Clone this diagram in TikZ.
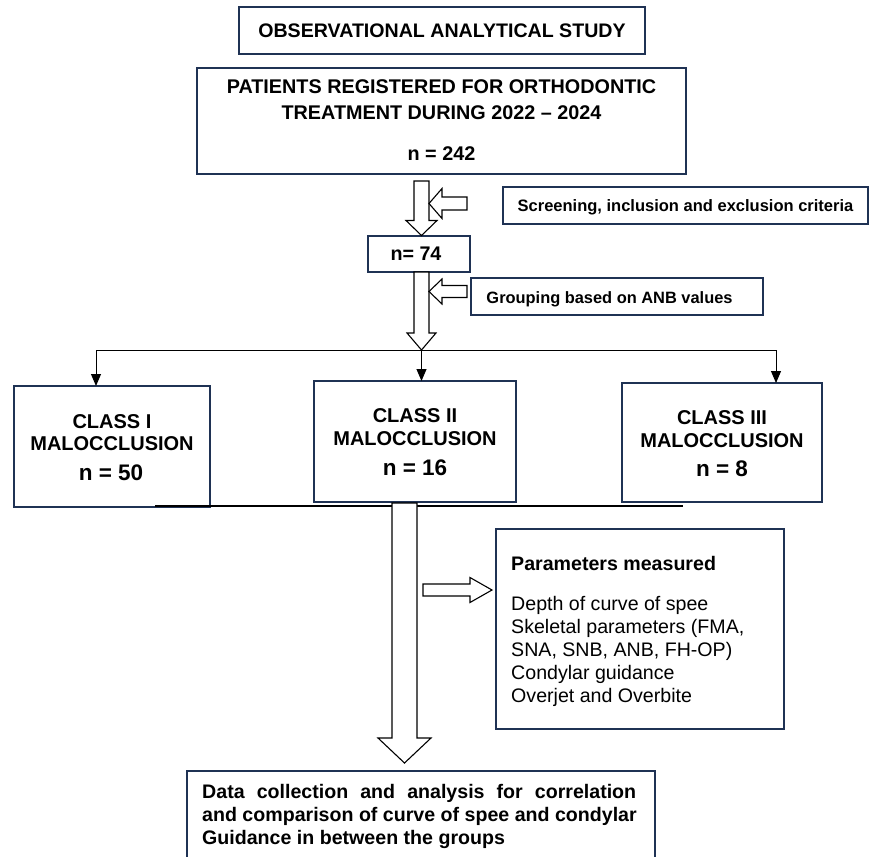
\documentclass[tikz,border=0pt]{standalone}
\usepackage{fontspec}
\setmainfont{Liberation Sans}
\usetikzlibrary{calc,arrows.meta}
\definecolor{navy}{RGB}{31,50,84}
\newcommand{\hollowarr}[5]{%
  \coordinate (hb) at ($(#2)!#5!(#1)$);
  \draw[hollow] ($(#1)!#3!90:(#2)$) -- ($(hb)!#3!-90:(#1)$) -- ($(hb)!#4!-90:(#1)$)
    -- (#2) -- ($(hb)!#4!90:(#1)$) -- ($(hb)!#3!90:(#1)$) -- ($(#1)!#3!-90:(#2)$) -- cycle;}
\begin{document}
\begin{tikzpicture}[x=1pt,y=-1pt,
  box/.style={draw=navy,line width=2pt,fill=white,inner sep=0pt,outer sep=0pt},
  hollow/.style={draw=black,line width=1.1pt,fill=white,line join=miter},
  conn/.style={draw=black,line width=1pt,-{Triangle[length=12pt,width=10pt]}},
  bt/.style={font=\bfseries\fontsize{#1}{#1}\selectfont,inner sep=0pt,anchor=base},
  bt/.default=20,
  rt/.style={font=\fontsize{#1}{#1}\selectfont,inner sep=0pt,anchor=base west},
  rt/.default=20]
\useasboundingbox (0,0) rectangle (869,856);
\clip (0,0) rectangle (869,856);
\fill[white] (0,0) rectangle (869,856);

% boxes
\node[box,minimum width=406pt,minimum height=47pt] (title) at (442,30.5) {};
\node[bt=19.6] (titletxt) at (442,37.5) {OBSERVATIONAL ANALYTICAL STUDY};

\node[box,minimum width=489pt,minimum height=106pt] (pat) at (441.5,121) {};
\node[bt=19.8] (pat1) at (441.5,94) {PATIENTS REGISTERED FOR ORTHODONTIC};
\node[bt=19.8] (pat2) at (441.5,120) {TREATMENT DURING 2022 – 2024};
\node[bt=19.8] (pat3) at (441.5,160) {n = 242};

\node[box,minimum width=365pt,minimum height=37pt] (scr) at (685.5,205.5) {};
\node[bt=16.5] (scrtxt) at (685.5,211) {Screening, inclusion and exclusion criteria};

\node[box,minimum width=102pt,minimum height=36pt] (n74) at (419,254) {};
\node[bt=19.7] (n74txt) at (416,260) {n= 74};

\node[box,minimum width=292pt,minimum height=37pt] (grp) at (617,296.5) {};
\node[bt=16.4] (grptxt) at (609.5,303) {Grouping based on ANB values};

\node[box,minimum width=196pt,minimum height=121pt] (c1) at (112,446.5) {};
\node[bt=20] (c1a) at (112,428) {CLASS I};
\node[bt=20] (c1b) at (112,450.5) {MALOCCLUSION};
\node[bt=22.5] (c1c) at (111,480) {n = 50};

\node[box,minimum width=202pt,minimum height=121pt] (c2) at (415,441.5) {};
\node[bt=20] (c2a) at (415,422) {CLASS II};
\node[bt=20] (c2b) at (415,445) {MALOCCLUSION};
\node[bt=22.5] (c2c) at (415,475) {n = 16};

\node[box,minimum width=200pt,minimum height=119pt] (c3) at (722,442.5) {};
\node[bt=20] (c3a) at (722,424) {CLASS III};
\node[bt=20] (c3b) at (722,447) {MALOCCLUSION};
\node[bt=22.5] (c3c) at (722,476) {n = 8};

\coordinate (ul) at (155,506);
\coordinate (ur) at (683,506);
\draw[black,line width=1.6pt] (ul) -- (ur);

\node[box,minimum width=288pt,minimum height=200pt] (par) at (640,629) {};
\node[rt=19.6,font=\bfseries\fontsize{19.6}{19.6}\selectfont] (par0) at (511,570) {Parameters measured};
\node[rt=19.6] (par1) at (511,610) {Depth of curve of spee};
\node[rt=19.6] (par2) at (511,633) {Skeletal parameters (FMA,};
\node[rt=19.6] (par3) at (511,656) {SNA, SNB, ANB, FH-OP)};
\node[rt=19.6] (par4) at (511,679) {Condylar guidance};
\node[rt=19.6] (par5) at (511,702) {Overjet and Overbite};

\node[box,minimum width=468pt,minimum height=110pt] (data) at (421,826) {};
\node[bt=19.6,anchor=base west] (d1) at (202,798) {\makebox[434pt][s]{Data collection and analysis for correlation}};
\node[bt=19.6,anchor=base west] (d2) at (202,821) {and comparison of curve of spee and condylar};
\node[bt=19.6,anchor=base west] (d3) at (202,844) {Guidance in between the groups};

% hollow arrows
\coordinate (a1s) at (421.5,181);
\coordinate (a1e) at (421.5,235.5);
\hollowarr{a1s}{a1e}{7.5pt}{15.5pt}{15pt}
\coordinate (a2s) at (467,203.5);
\coordinate (a2e) at (429,203.5);
\hollowarr{a2s}{a2e}{6.5pt}{15pt}{13pt}
\coordinate (a3s) at (421.5,272);
\coordinate (a3e) at (421.5,350);
\hollowarr{a3s}{a3e}{7.5pt}{14.5pt}{17pt}
\coordinate (a4s) at (467,291.5);
\coordinate (a4e) at (429,291.5);
\hollowarr{a4s}{a4e}{6pt}{12.5pt}{13pt}
\coordinate (a5s) at (404.5,503);
\coordinate (a5e) at (404.5,763);
\hollowarr{a5s}{a5e}{12.5pt}{26.5pt}{25pt}
\coordinate (a6s) at (423,590);
\coordinate (a6e) at (492,590);
\hollowarr{a6s}{a6e}{6pt}{12.5pt}{22pt}

% distribution line and thin arrows
\coordinate (hl) at (96,350);
\coordinate (hm) at (421.5,350);
\coordinate (hr) at (776,350);
\draw[black,line width=1pt] (hl) -- (hr);
\draw[conn] (hl) -- (hl |- c1.north);
\draw[conn] (hm) -- (hm |- c2.north);
\draw[conn] (hr) -- (hr |- c3.north);
\end{tikzpicture}
\end{document}
